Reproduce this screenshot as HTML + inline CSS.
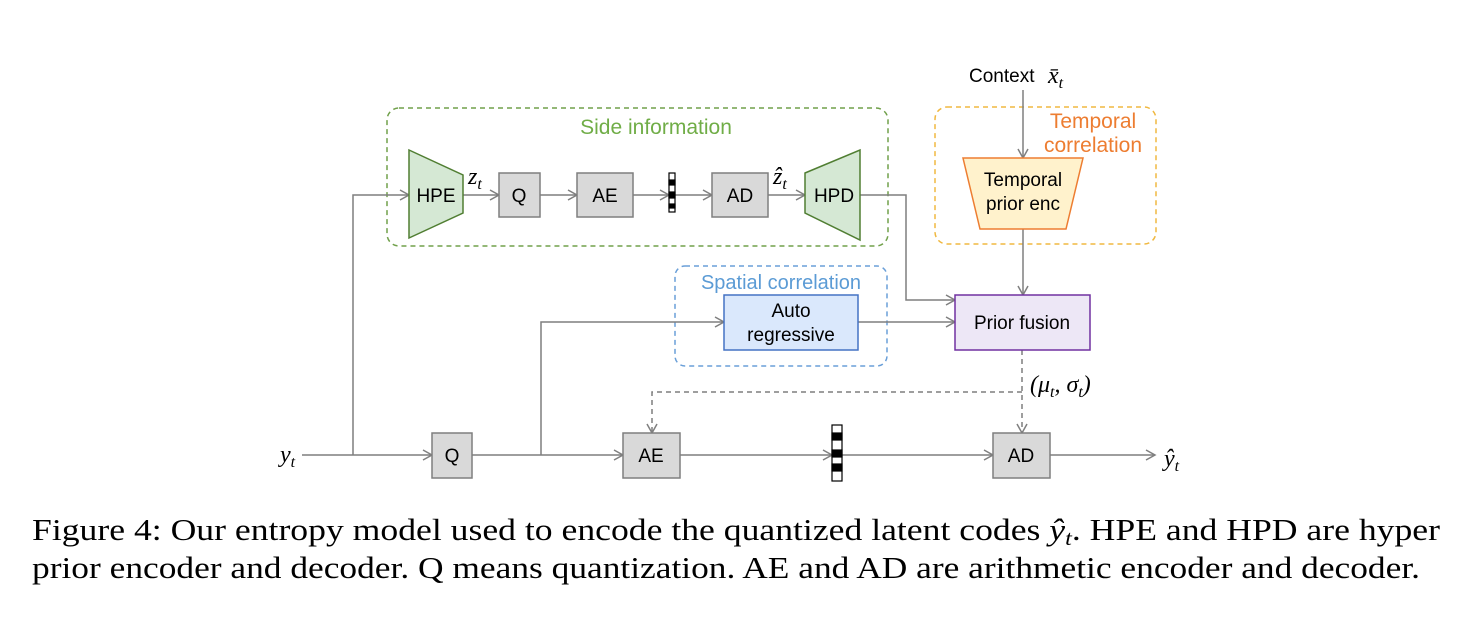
<!DOCTYPE html>
<html><head><style>
body{margin:0;background:#fff;}
svg{display:block;}
.s{font-family:"Liberation Sans","DejaVu Sans",sans-serif;font-size:19px;fill:#000;}
.m{font-family:"Liberation Serif",serif;font-style:italic;font-size:24px;fill:#000;}
.cap{font-family:"Liberation Serif",serif;font-size:31px;fill:#000;}
</style></head><body>
<svg width="1470" height="618" viewBox="0 0 1470 618" xmlns="http://www.w3.org/2000/svg">
<defs>
<marker id="a" markerWidth="12" markerHeight="12" refX="10" refY="6" orient="auto" markerUnits="userSpaceOnUse">
<path d="M1,1 L10,6 L1,11" fill="none" stroke="#7f7f7f" stroke-width="1.5"/></marker>
</defs>
<g fill="none" stroke-width="1.5">
<rect x="387" y="108" width="501" height="138" rx="12" stroke="#70a04a" stroke-dasharray="5,4"/>
<rect x="935" y="107" width="221" height="137" rx="12" stroke="#f0b840" stroke-dasharray="5,4"/>
<rect x="675" y="266" width="212" height="100" rx="10" stroke="#6a9fd8" stroke-dasharray="5,4"/>
</g>
<text x="656" y="134" text-anchor="middle" font-family="Liberation Sans,sans-serif" font-size="21" fill="#70ad47">Side information</text>
<text x="1093" y="128" text-anchor="middle" font-family="Liberation Sans,sans-serif" font-size="21" fill="#ed7d31">Temporal</text>
<text x="1093" y="152" text-anchor="middle" font-family="Liberation Sans,sans-serif" font-size="21" fill="#ed7d31">correlation</text>
<text x="781" y="289" text-anchor="middle" font-family="Liberation Sans,sans-serif" font-size="20" fill="#5b9bd5">Spatial correlation</text>
<g stroke="#7f7f7f" stroke-width="1.5" fill="none">
<path d="M302,455 H432" marker-end="url(#a)"/>
<path d="M353,455 V195 H409" marker-end="url(#a)"/>
<path d="M463,195 H499" marker-end="url(#a)"/>
<path d="M540,195 H577" marker-end="url(#a)"/>
<path d="M633,195 H669" marker-end="url(#a)"/>
<path d="M675,195 H712" marker-end="url(#a)"/>
<path d="M768,195 H805" marker-end="url(#a)"/>
<path d="M860,195 H906 V300 H955" marker-end="url(#a)"/>
<path d="M472,455 H623" marker-end="url(#a)"/>
<path d="M541,455 V322 H724" marker-end="url(#a)"/>
<path d="M858,322 H955" marker-end="url(#a)"/>
<path d="M680,455 H832" marker-end="url(#a)"/>
<path d="M842,455 H993" marker-end="url(#a)"/>
<path d="M1050,455 H1155" marker-end="url(#a)"/>
<path d="M1023,90 V158" marker-end="url(#a)"/>
<path d="M1023,229 V295" marker-end="url(#a)"/>
<path d="M1022,350 V433" stroke-dasharray="5,4" marker-end="url(#a)"/>
<path d="M1022,392 H652 V433" stroke-dasharray="5,4" marker-end="url(#a)"/>
</g>
<g stroke="#7f7f7f" stroke-width="1.5" fill="#d9d9d9">
<rect x="499" y="173" width="41" height="44"/>
<rect x="577" y="173" width="56" height="44"/>
<rect x="712" y="173" width="56" height="44"/>
<rect x="432" y="433" width="40" height="45"/>
<rect x="623" y="433" width="57" height="45"/>
<rect x="993" y="433" width="57" height="45"/>
</g>
<polygon points="409,150 463,175 463,213 409,238" fill="#d5e8d4" stroke="#507e32" stroke-width="1.5"/>
<polygon points="805,173 860,150 860,240 805,213" fill="#d5e8d4" stroke="#507e32" stroke-width="1.5"/>
<polygon points="963,158 1083,158 1066,229 980,229" fill="#fff2cc" stroke="#ed7d31" stroke-width="1.5"/>
<rect x="724" y="295" width="134" height="55" fill="#dae8fc" stroke="#4472c4" stroke-width="1.5"/>
<rect x="955" y="295" width="135" height="55" fill="#ede7f6" stroke="#7030a0" stroke-width="1.5"/>
<g stroke="#000" stroke-width="1.2">
<rect x="669" y="173" width="6" height="39" fill="#fff"/>
<rect x="669" y="180" width="6" height="5" fill="#000"/><rect x="669" y="192" width="6" height="6" fill="#000"/><rect x="669" y="204" width="6" height="4" fill="#000"/>
<rect x="832" y="425" width="10" height="56" fill="#fff"/>
<rect x="832" y="433" width="10" height="7" fill="#000"/><rect x="832" y="450" width="10" height="7" fill="#000"/><rect x="832" y="464" width="10" height="7" fill="#000"/>
</g>
<g class="s" text-anchor="middle">
<text x="436" y="202">HPE</text>
<text x="519" y="202">Q</text>
<text x="605" y="202">AE</text>
<text x="740" y="202">AD</text>
<text x="834" y="202">HPD</text>
<text x="452" y="462">Q</text>
<text x="651" y="462">AE</text>
<text x="1021" y="462">AD</text>
<text x="1023" y="186">Temporal</text>
<text x="1023" y="210">prior enc</text>
<text x="791" y="317">Auto</text>
<text x="791" y="341">regressive</text>
<text x="1022" y="329">Prior fusion</text>
</g>
<text class="s" x="969" y="82" font-size="20">Context</text>
<text class="m" x="1048" y="83">x̄<tspan font-size="16" dy="5">t</tspan></text>
<text class="m" x="468" y="184">z<tspan font-size="16" dy="5">t</tspan></text>
<text class="m" x="773" y="184">ẑ<tspan font-size="16" dy="5">t</tspan></text>
<text class="m" x="280" y="462">y<tspan font-size="16" dy="5">t</tspan></text>
<text class="m" x="1164" y="466">ŷ<tspan font-size="16" dy="5">t</tspan></text>
<text class="m" x="1030" y="392">(μ<tspan font-size="16" dy="5">t</tspan><tspan dy="-5">, σ</tspan><tspan font-size="16" dy="5">t</tspan><tspan dy="-5">)</tspan></text>
<text class="cap" x="32" y="540" textLength="1408" lengthAdjust="spacingAndGlyphs">Figure 4: Our entropy model used to encode the quantized latent codes <tspan font-style="italic">ŷ<tspan font-size="21" dy="5">t</tspan></tspan><tspan dy="-5">. HPE and HPD are hyper</tspan></text>
<text class="cap" x="32" y="578" textLength="1388" lengthAdjust="spacingAndGlyphs">prior encoder and decoder. Q means quantization. AE and AD are arithmetic encoder and decoder.</text>
</svg>
</body></html>
